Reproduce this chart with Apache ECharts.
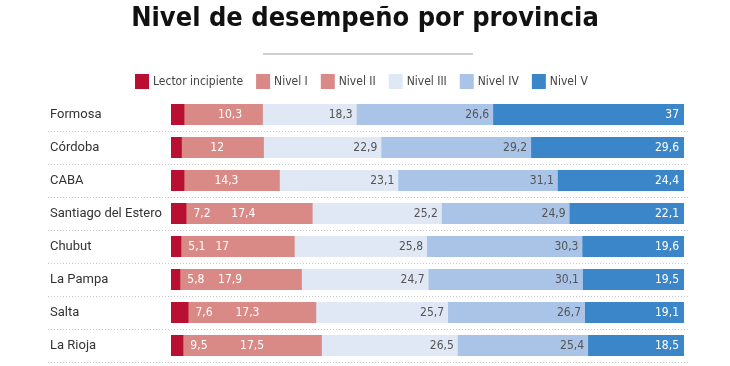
<!DOCTYPE html>
<html>
<head>
<meta charset="utf-8">
<script src="https://cdn.jsdelivr.net/npm/echarts@6/dist/echarts.min.js"></script>
<style>
html,body{margin:0;padding:0;background:#fff;}
#chart{width:730px;height:366px;}
</style>
</head>
<body>
<div id="chart"></div>
<script>
var provincias = ["Formosa", "Córdoba", "CABA", "Santiago del Estero", "Chubut", "La Pampa", "Salta", "La Rioja"];
var lectorIncipiente = [2.8, 2.3, 2.8, 3.2, 2.2, 2.0, 3.6, 2.6];
var nivelI = [5.0, 4.0, 4.3, 7.2, 5.1, 5.8, 7.6, 9.5];
var nivelIImpreso = [false, false, false, true, true, true, true, true];
var nivelII = [10.3, 12, 14.3, 17.4, 17, 17.9, 17.3, 17.5];
var nivelIII = [18.3, 22.9, 23.1, 25.2, 25.8, 24.7, 25.7, 26.5];
var nivelIV = [26.6, 29.2, 31.1, 24.9, 30.3, 30.1, 26.7, 25.4];
var nivelV = [37, 29.6, 24.4, 22.1, 19.6, 19.5, 19.1, 18.5];
var seriesNames = ["Lector incipiente", "Nivel I", "Nivel II", "Nivel III", "Nivel IV", "Nivel V"];

var condFont = "'DejaVu Sans Condensed', 'DejaVu Sans', sans-serif";
function fmt(v) { return String(v).replace('.', ','); }

var chart = echarts.init(document.getElementById('chart'), null, {renderer: 'canvas'});

function mkSeries(name, data, color, labelOpt, first) {
  return {
    name: name,
    type: 'bar',
    stack: 'total',
    barWidth: 21,
    xAxisIndex: 0,
    yAxisIndex: 0,
    data: data,
    itemStyle: first ? {color: color} : {color: color, shadowColor: color, shadowBlur: 0, shadowOffsetX: -1},
    label: labelOpt,
    emphasis: {disabled: true}
  };
}

var option = {
  animation: false,
  title: {
    text: 'Nivel de desempeño por provincia',
    left: 'center',
    top: 0,
    textStyle: {fontSize: 27, fontWeight: 'bold', color: '#111', fontFamily: condFont}
  },
  legend: {
    data: seriesNames,
    top: 74,
    left: 135,
    padding: 0,
    itemWidth: 14,
    itemHeight: 15,
    itemGap: 13,
    icon: 'rect',
    textStyle: {fontSize: 12, color: '#444', fontFamily: condFont, padding: [0, 0, 0, -1]}
  },
  graphic: [{
    type: 'line',
    shape: {x1: 263, y1: 54, x2: 473, y2: 54},
    style: {stroke: '#d0d0d0', lineWidth: 2}
  }],
  grid: [
    {left: 171, right: 46, top: 98, bottom: 4},
    {left: 48, right: 40, top: 98, bottom: 4}
  ],
  xAxis: [
    {type: 'value', gridIndex: 0, min: 0, max: 100, show: false},
    {type: 'value', gridIndex: 1, min: 0, max: 100, show: false}
  ],
  yAxis: [
    {
      type: 'category', gridIndex: 0, data: provincias, inverse: true,
      axisLine: {show: false}, axisTick: {show: false}, splitLine: {show: false},
      axisLabel: {align: 'left', margin: 121, fontSize: 13, color: '#333', fontFamily: 'Roboto, sans-serif'}
    },
    {
      type: 'category', gridIndex: 1, data: provincias, inverse: true,
      axisLine: {show: false}, axisTick: {show: false}, axisLabel: {show: false},
      splitLine: {show: true, interval: function (i) { return i > 0; }, lineStyle: {color: '#c8c8c8', type: [1, 2], width: 1}}
    }
  ],
  series: [
    mkSeries(seriesNames[0], lectorIncipiente, '#b80f32', {show: false}, true),
    mkSeries(seriesNames[1], nivelI, '#d98a86', {
      show: true, position: 'insideLeft', distance: 6, color: '#fff', fontSize: 12, fontFamily: condFont,
      formatter: function (p) { return nivelIImpreso[p.dataIndex] ? fmt(p.value) : ''; }
    }),
    mkSeries(seriesNames[2], nivelII, '#d98a86', {
      show: true, position: 'insideLeft', distance: 7, color: '#fff', fontSize: 12, fontFamily: condFont,
      formatter: function (p) { return fmt(p.value); }
    }),
    mkSeries(seriesNames[3], nivelIII, '#dfe8f4', {
      show: true, position: 'insideRight', distance: 5, color: '#555', fontSize: 12, fontFamily: condFont,
      formatter: function (p) { return fmt(p.value); }
    }),
    mkSeries(seriesNames[4], nivelIV, '#a9c4e6', {
      show: true, position: 'insideRight', distance: 5, color: '#555', fontSize: 12, fontFamily: condFont,
      formatter: function (p) { return fmt(p.value); }
    }),
    mkSeries(seriesNames[5], nivelV, '#3b86c8', {
      show: true, position: 'insideRight', distance: 5, color: '#fff', fontSize: 12, fontFamily: condFont,
      formatter: function (p) { return fmt(p.value); }
    })
  ]
};
chart.setOption(option);
</script>
</body>
</html>
